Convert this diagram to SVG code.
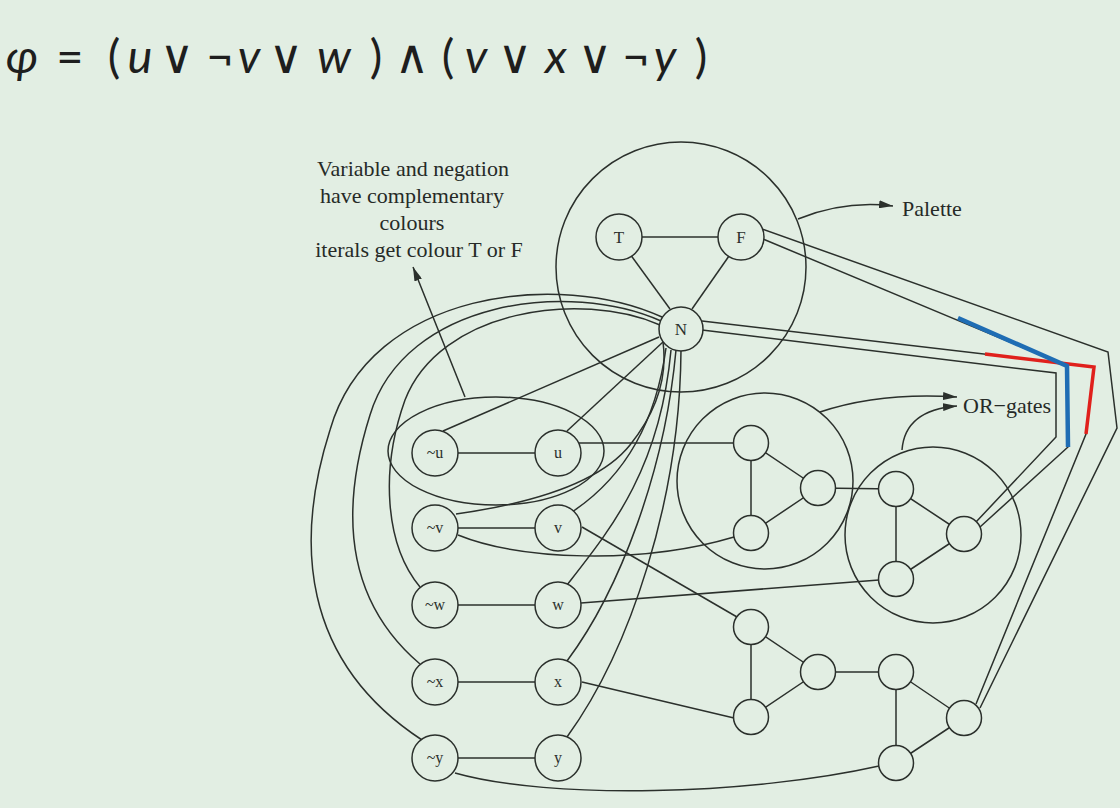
<svg xmlns="http://www.w3.org/2000/svg" width="1120" height="808" viewBox="0 0 1120 808">
  <defs>
    <style>
      .bg { fill: #e2eee3; }
      .edge { fill: none; stroke: #2b302c; stroke-width: 1.5; }
      .hull { fill: none; stroke: #2b302c; stroke-width: 1.5; }
      .node circle { fill: #e2eee3; stroke: #2b302c; stroke-width: 1.5; }
      .lbl { font-family: "Liberation Serif", "Times New Roman", serif; font-size: 16px; fill: #2b302c; text-anchor: middle; }
      .pal { font-size: 17px; }
      .note { font-family: "Liberation Serif", "Times New Roman", serif; font-size: 22px; fill: #262a27; }
      .title { font-family: Lato, "DejaVu Sans", sans-serif; font-size: 47px; fill: #1e1e1e; text-anchor: middle; }
      .var { font-style: italic; }
      .blue { fill: none; stroke: #1f6db4; stroke-width: 4.5; }
      .red { fill: none; stroke: #e0201c; stroke-width: 3.5; }
    </style>
    <marker id="arrow" viewBox="0 0 14 8" refX="14" refY="4" markerWidth="14" markerHeight="8" markerUnits="userSpaceOnUse" orient="auto">
      <path d="M0,0 L14,4 L0,8 z" fill="#2b302c"/>
    </marker>
  </defs>

  <rect class="bg" x="0" y="0" width="1120" height="808"/>

  <!-- formula -->
  <text class="title" y="73">
    <tspan x="28" class="var">φ</tspan>
    <tspan x="76">=</tspan>
    <tspan x="120">(</tspan>
    <tspan x="146" class="var">u</tspan>
    <tspan x="183">∨</tspan>
    <tspan x="226">¬</tspan>
    <tspan x="255" class="var">v</tspan>
    <tspan x="292">∨</tspan>
    <tspan x="340" class="var">w</tspan>
    <tspan x="382">)</tspan>
    <tspan x="418">∧</tspan>
    <tspan x="454">(</tspan>
    <tspan x="482" class="var">v</tspan>
    <tspan x="521">∨</tspan>
    <tspan x="562" class="var">x</tspan>
    <tspan x="601">∨</tspan>
    <tspan x="642">¬</tspan>
    <tspan x="671" class="var">y</tspan>
    <tspan x="701">)</tspan>
  </text>

  <!-- annotations -->
  <g id="note-literals">
    <text class="note" text-anchor="middle" x="413" y="176">Variable and negation</text>
    <text class="note" text-anchor="middle" x="412" y="203">have complementary</text>
    <text class="note" text-anchor="middle" x="412" y="230">colours</text>
    <text class="note" text-anchor="middle" x="419" y="257">iterals get colour T or F</text>
  </g>
  <text class="note" x="902" y="216">Palette</text>
  <text class="note" x="963" y="413">OR−gates</text>

  <!-- clusters -->
  <g id="palette"><circle class="hull" cx="681" cy="267" r="125"/></g>
  <g id="or-gate-1"><circle class="hull" cx="765" cy="481" r="88"/></g>
  <g id="or-gate-2"><circle class="hull" cx="933" cy="535" r="88"/></g>
  <g id="pair-u"><ellipse class="hull" cx="496" cy="451" rx="108" ry="54"/></g>

  <!-- connectors -->
  <g id="connectors">
    <!-- annotation pointers -->
    <path class="edge" d="M465,397 L413,267" marker-end="url(#arrow)"/>
    <path class="edge" d="M798,219 Q845,200 893,206" marker-end="url(#arrow)"/>
    <path class="edge" d="M820,412 Q880,392 957,397" marker-end="url(#arrow)"/>
    <path class="edge" d="M902,450 Q905,410 957,406" marker-end="url(#arrow)"/>

    <!-- palette triangle -->
    <path class="edge" d="M642,237 L718,237"/>
    <path class="edge" d="M630,254 L670,309"/>
    <path class="edge" d="M729,256 L692,309"/>

    <!-- literal pairs -->
    <path class="edge" d="M458,453 L535,453"/>
    <path class="edge" d="M458,528 L535,528"/>
    <path class="edge" d="M458,605 L535,605"/>
    <path class="edge" d="M458,682 L535,682"/>
    <path class="edge" d="M458,758 L535,758"/>

    <!-- N to literals -->
    <path class="edge" d="M659,337 L443,431"/>
    <path class="edge" d="M663,342 L567,431"/>
    <path class="edge" d="M456,514 Q590,495 630,445 T663,342"/>
    <path class="edge" d="M572,512 C620,480 655,430 666,348"/>
    <path class="edge" d="M567,585 C610,530 660,470 671,350"/>
    <path class="edge" d="M567,661 C620,590 665,470 676,350"/>
    <path class="edge" d="M567,737 C630,650 680,500 681,350"/>
    <path class="edge" d="M662,317 C560,270 370,290 330,430 C295,540 300,660 422,740"/>
    <path class="edge" d="M661,321 C570,280 405,300 370,415 C340,510 345,600 420,664"/>
    <path class="edge" d="M660,325 C580,290 440,310 405,400 C380,470 385,545 420,587"/>

    <!-- literals to clause gates -->
    <path class="edge" d="M579,443 L734,443"/>
    <path class="edge" d="M458,535 C520,560 640,565 734,537"/>
    <path class="edge" d="M581,603 L879,580"/>
    <path class="edge" d="M582,527 L737,617"/>
    <path class="edge" d="M582,682 L734,718"/>
    <path class="edge" d="M455,773 C550,800 750,795 879,766"/>

    <!-- gate internals -->
    <path class="edge" d="M751,443 L751,533 M751,443 L818,488 M751,533 L818,488 M818,488 L896,489"/>
    <path class="edge" d="M896,489 L896,579 M896,489 L964,534 M896,579 L964,534"/>
    <path class="edge" d="M751,627 L751,717 M751,627 L818,672 M751,717 L818,672 M818,672 L896,672"/>
    <path class="edge" d="M896,672 L896,763 M896,672 L964,718 M896,763 L964,718"/>

    <!-- gate outputs wired to F and N -->
    <path class="edge" d="M762,229 L1108,352 L1117,428 L980,708"/>
    <path class="edge" d="M763,239 L1067,366 L1068,447 L980,527"/>
    <path class="edge" d="M702,321 L1094,367 L1086,434 L976,704"/>
    <path class="edge" d="M702,330 L1056,373 L1056,437 L976,522"/>
    <path class="red" d="M985,354 L1094,367 L1086,434"/>
    <path class="blue" d="M958,318 L1067,366 L1068,447"/>
  </g>

  <!-- palette nodes -->
  <g id="node-T" class="node"><circle cx="619" cy="237" r="23"/><text class="lbl pal" x="619" y="243">T</text></g>
  <g id="node-F" class="node"><circle cx="741" cy="237" r="23"/><text class="lbl pal" x="741" y="243">F</text></g>
  <g id="node-N" class="node"><circle cx="681" cy="329" r="22"/><text class="lbl pal" x="681" y="335">N</text></g>

  <!-- literal nodes -->
  <g id="node-not-u" class="node"><circle cx="435" cy="453" r="23"/><text class="lbl" x="435" y="458">~u</text></g>
  <g id="node-u" class="node"><circle cx="558" cy="453" r="23"/><text class="lbl" x="558" y="458">u</text></g>
  <g id="node-not-v" class="node"><circle cx="435" cy="528" r="23"/><text class="lbl" x="435" y="533">~v</text></g>
  <g id="node-v" class="node"><circle cx="558" cy="528" r="23"/><text class="lbl" x="558" y="533">v</text></g>
  <g id="node-not-w" class="node"><circle cx="435" cy="605" r="23"/><text class="lbl" x="435" y="610">~w</text></g>
  <g id="node-w" class="node"><circle cx="558" cy="605" r="23"/><text class="lbl" x="558" y="610">w</text></g>
  <g id="node-not-x" class="node"><circle cx="435" cy="682" r="23"/><text class="lbl" x="435" y="687">~x</text></g>
  <g id="node-x" class="node"><circle cx="558" cy="682" r="23"/><text class="lbl" x="558" y="687">x</text></g>
  <g id="node-not-y" class="node"><circle cx="435" cy="758" r="23"/><text class="lbl" x="435" y="763">~y</text></g>
  <g id="node-y" class="node"><circle cx="558" cy="758" r="23"/><text class="lbl" x="558" y="763">y</text></g>

  <!-- clause 1 gates -->
  <g id="node-c1-a1" class="node"><circle cx="751" cy="443" r="17.5"/></g>
  <g id="node-c1-b1" class="node"><circle cx="751" cy="533" r="17.5"/></g>
  <g id="node-c1-o1" class="node"><circle cx="818" cy="488" r="17.5"/></g>
  <g id="node-c1-a2" class="node"><circle cx="896" cy="489" r="17.5"/></g>
  <g id="node-c1-b2" class="node"><circle cx="896" cy="579" r="17.5"/></g>
  <g id="node-c1-o2" class="node"><circle cx="964" cy="534" r="17.5"/></g>

  <!-- clause 2 gates -->
  <g id="node-c2-a1" class="node"><circle cx="751" cy="627" r="17.5"/></g>
  <g id="node-c2-b1" class="node"><circle cx="751" cy="717" r="17.5"/></g>
  <g id="node-c2-o1" class="node"><circle cx="818" cy="672" r="17.5"/></g>
  <g id="node-c2-a2" class="node"><circle cx="896" cy="672" r="17.5"/></g>
  <g id="node-c2-b2" class="node"><circle cx="896" cy="763" r="17.5"/></g>
  <g id="node-c2-o2" class="node"><circle cx="964" cy="718" r="17.5"/></g>
</svg>
